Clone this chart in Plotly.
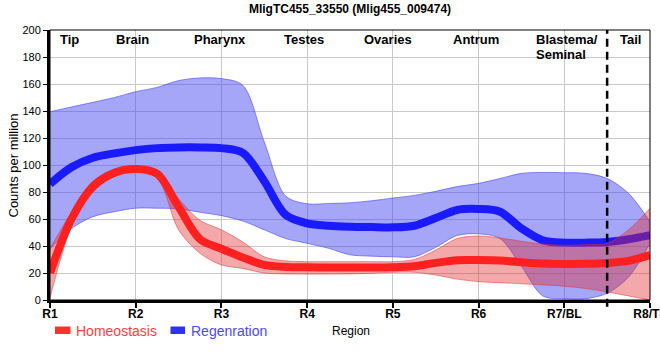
import plotly.graph_objects as go

# ---- data ----
x_pos = [1, 1.25, 1.5, 1.75, 2, 2.25, 2.5, 2.75, 3, 3.25, 3.5, 3.75, 4, 4.25, 4.5, 4.75,
         5, 5.25, 5.5, 5.75, 6, 6.25, 6.5, 6.75, 7, 7.25, 7.5, 7.75, 8]
tick_vals = [1, 2, 3, 4, 5, 6, 7, 8]
tick_labels = ["R1", "R2", "R3", "R4", "R5", "R6", "R7/BL", "R8/TL"]

homeo_mean = [20, 60, 84, 94.3, 97, 93.5, 69, 45, 38, 31.5, 26, 24.5, 24.2, 24, 24, 24,
              24.2, 25, 27.5, 29.5, 29.6, 29.2, 28, 27, 26.7, 26.8, 27.4, 29, 33.3]
homeo_upper = [38, 65, 88, 96.3, 99.3, 95.5, 75, 59, 52, 43, 32, 29, 28.4, 28.4, 28.4, 28.4,
               28.4, 30, 37, 45.5, 47.4, 46, 43.5, 41.5, 40.5, 41, 42, 52, 68]
homeo_lower = [1.5, 54, 80, 91.4, 95, 90.5, 52, 34.6, 26, 23.4, 20, 19.3, 19.2, 19.2, 19.3, 19.8,
               20.5, 20.5, 18.5, 15.5, 13.6, 12.8, 12, 11.2, 10.2, 8.5, 6, 3, 0]

regen_mean = [86, 98.3, 105.4, 108.6, 111, 112.5, 113, 113, 112.5, 109, 88, 63, 56.8, 55, 54.3, 54,
              53.8, 55, 60.7, 66.7, 67.4, 65.4, 53, 44.2, 42.5, 42.5, 43, 45, 48]
regen_upper = [139.5, 143, 146.4, 150, 154.3, 157.5, 162.5, 164.5, 164, 159, 117, 77, 71.3, 71.5, 72, 73.5,
               75.5, 77.5, 80.5, 84, 86.4, 90, 93.8, 94.5, 94.3, 93.8, 90, 79, 58]
regen_lower = [38, 53, 61.7, 65.4, 68, 68, 67.5, 65, 62.5, 58.5, 52, 45.5, 42, 38.3, 33.5, 32.5,
               32, 32, 39, 47.8, 49, 45.5, 25, 3, 1, 1, 5, 17, 42]

region_names = ["Tip", "Brain", "Pharynx", "Testes", "Ovaries", "Antrum", "Blastema/", "Seminal", "Tail"]
region_x = [1.227, 1.96, 2.98, 3.96, 4.94, 5.97, 6.65, 6.65, 7.77]
region_row = [0, 0, 0, 0, 0, 0, 0, 1, 0]

FONT = "Arial, Liberation Sans, sans-serif"

fig = go.Figure()
spl = dict(shape="spline", smoothing=0.9)

fig.add_trace(go.Scatter(x=x_pos, y=regen_lower, mode="lines",
                         line=dict(color="rgba(70,70,240,0.6)", width=1, **spl),
                         hoverinfo="skip", showlegend=False))
fig.add_trace(go.Scatter(x=x_pos, y=regen_upper, mode="lines", fill="tonexty",
                         fillcolor="rgba(70,70,240,0.48)",
                         line=dict(color="rgba(70,70,240,0.6)", width=1, **spl),
                         hoverinfo="skip", showlegend=False))
fig.add_trace(go.Scatter(x=x_pos, y=regen_mean, mode="lines", name="Regenration",
                         line=dict(color="#1a1aff", width=8, **spl), showlegend=False))
fig.add_trace(go.Scatter(x=x_pos, y=homeo_lower, mode="lines",
                         line=dict(color="rgba(220,50,50,0.5)", width=1, **spl),
                         hoverinfo="skip", showlegend=False))
fig.add_trace(go.Scatter(x=x_pos, y=homeo_upper, mode="lines", fill="tonexty",
                         fillcolor="rgba(225,40,40,0.4)",
                         line=dict(color="rgba(220,50,50,0.5)", width=1, **spl),
                         hoverinfo="skip", showlegend=False))
fig.add_trace(go.Scatter(x=x_pos, y=homeo_mean, mode="lines", name="Homeostasis",
                         line=dict(color="#ff2020", width=8, **spl), showlegend=False))


def px(v):
    return (v - 50) / 600


def py(v):
    return (300 - v) / 270


annotations = []
for name, rx, row in zip(region_names, region_x, region_row):
    left = name in ("Blastema/", "Seminal")
    annotations.append(dict(x=rx, y=py(39.5 + 15 * row), xref="x", yref="paper",
                            text="<b>%s</b>" % name, showarrow=False,
                            xanchor="left" if left else "center", yanchor="middle",
                            font=dict(family=FONT, size=13, color="black")))

# axis titles
annotations.append(dict(x=px(13), y=py(165.5), xref="paper", yref="paper", text="Counts per million",
                        showarrow=False, textangle=-90, xanchor="center", yanchor="middle",
                        font=dict(family=FONT, size=13, color="black")))
annotations.append(dict(x=px(351), y=py(331), xref="paper", yref="paper",
                        text="Region", showarrow=False, xanchor="center", yanchor="middle",
                        font=dict(family=FONT, size=12, color="black")))

# manual legend
annotations.append(dict(x=px(74), y=py(330.5), xref="paper", yref="paper", text="Homeostasis",
                        showarrow=False, xanchor="left", yanchor="middle",
                        font=dict(family=FONT, size=14, color="#ff4040")))
annotations.append(dict(x=px(189), y=py(330.5), xref="paper", yref="paper", text="Regenration",
                        showarrow=False, xanchor="left", yanchor="middle",
                        font=dict(family=FONT, size=14, color="#4a4aff")))

shapes = [
    dict(type="rect", xref="paper", yref="paper", x0=px(55), x1=px(70.5), y0=py(334), y1=py(326.5),
         fillcolor="#ff3030", line=dict(width=0)),
    dict(type="rect", xref="paper", yref="paper", x0=px(170.5), x1=px(185), y0=py(334), y1=py(326.5),
         fillcolor="#3030ff", line=dict(width=0)),
    dict(type="line", xref="x", yref="paper", x0=7.5, x1=7.5, y0=-0.025, y1=1,
         line=dict(color="black", width=2.5, dash="8px,5px"), layer="above"),
    dict(type="rect", xref="paper", yref="paper", x0=0, x1=1, y0=0, y1=1,
         line=dict(color="black", width=1), layer="above"),
]

fig.update_layout(
    template="none",
    width=660, height=360,
    margin=dict(l=50, r=10, t=30, b=60, autoexpand=False),
    paper_bgcolor="white", plot_bgcolor="white",
    title=dict(text="<b>MligTC455_33550 (Mlig455_009474)</b>", x=0.5, xref="paper",
               y=1 - 9 / 360, yref="container", xanchor="center", yanchor="middle",
               font=dict(family=FONT, size=12, color="black")),
    showlegend=False,
    annotations=annotations,
    shapes=shapes,
    xaxis=dict(range=[1, 8], tickvals=tick_vals, ticktext=tick_labels,
               showgrid=True, gridcolor="#c8c8c8", gridwidth=1, zeroline=False,
               showline=True, linecolor="black", linewidth=3,
               ticks="outside", ticklen=5, tickwidth=2, tickcolor="black",
               tickfont=dict(family=FONT, size=12, color="black", weight="bold"),
               ticklabeloverflow="allow", ticklabelstandoff=-4,
               automargin=False, fixedrange=True),
    yaxis=dict(range=[0, 200], tickvals=list(range(0, 201, 20)),
               showgrid=True, gridcolor="#c8c8c8", gridwidth=1, zeroline=False,
               showline=True, linecolor="black", linewidth=3,
               ticks="outside", ticklen=4, tickwidth=1, tickcolor="black",
               tickfont=dict(family=FONT, size=11, color="black"),
               automargin=False, fixedrange=True),
)

fig.write_html("out.html", config={"displayModeBar": False},
               post_script="document.body.style.margin='0';document.body.style.overflow='hidden';")
